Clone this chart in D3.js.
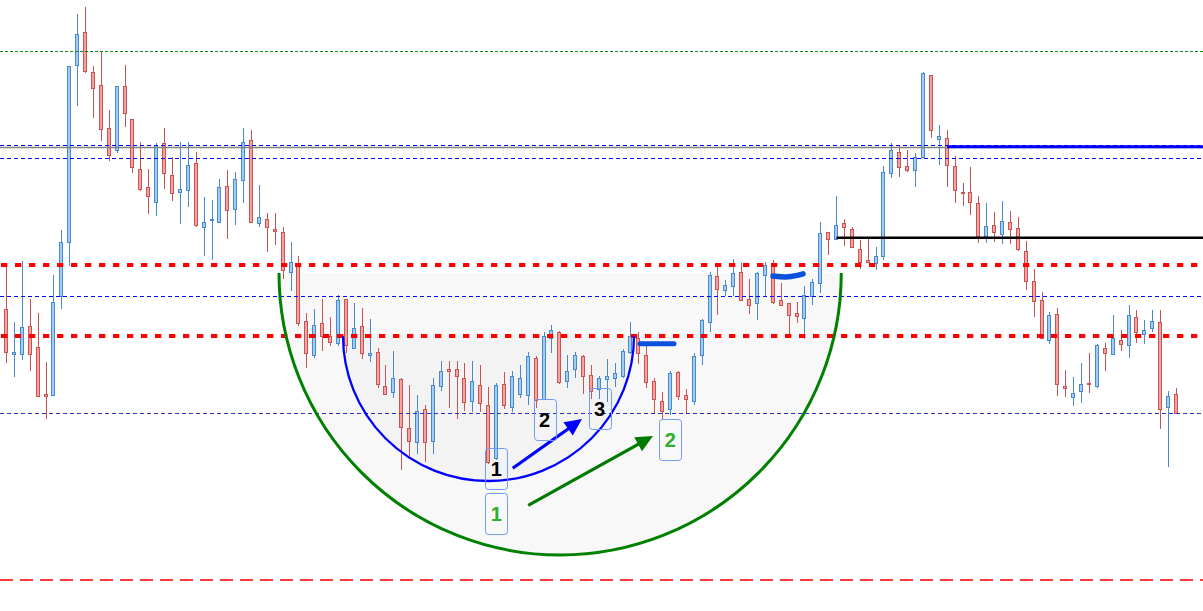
<!DOCTYPE html>
<html><head><meta charset="utf-8">
<script src="https://cdn.jsdelivr.net/npm/d3@7"></script>
<style>html,body{margin:0;padding:0;background:#fff;overflow:hidden}svg{display:block}</style>
</head><body><svg id="c" width="1203" height="611"></svg>
<script>
// ---- data (price units; first candle is index -1, partially off-screen) ----
const firstIndex = -1;
const opens = [281,302,257.5,257,285,264,217,216,315,369,
 546,579,539,526,483,461,525,492,442,424,
 409,468,436,419,421,448,384,391,389,425,
 402,431,471,388,392,382,379,339,348,290,
 256,288,275,268,312,263,285,256,259,225,
 219,232,183,169,202,170,225,242,242,233,
 210,226,206,153,227,204,217,216,253,212,
 273,279,230,242,255,236,222,232,233,235,
 259,273,256,230,210,202,239,216,210,256,
 289,335,321,325,339,312,308,336,348,311,
 308,298,293,315,328,379,372,388,382,362,
 351,348,355,438,459,445,441,454,536,472,
 473,445,419,419,408,375,386,377,389,383,
 360,330,311,271,297,225,214,220,228,225,
 263,257,271,266,294,277,283,289,204,217];
const closes = [301,259,259,284,257,215,215,309,369,545,
 577,540,523,482,456,525,498,444,422,415,
 466,438,418,422,446,386,389,392,424,401,
 432,469,389,394,384,380.5,341,349,288,258,
 286,275,269,311,266,283,258,258,227,217,
 233,184,170,200,169,226,240,240,235,209,
 230,208,149,226,206,235,233,255,211,275,
 281,229,240,256,235,220,233,235,238,260,
 275,258,229,212,200,238,215,212,255,291,
 336,322,326,338,311,306,338,346,309,306,
 296,295,316,329,378,372,386,384,364,349,
 349,355,439,461,444,441,454,538,481,475,
 446,421,418,409,375,385,379,390,382,362,
 330,310,273,296,227,223,218,227,227,266,
 258,273,267,296,279,281,290,202,215,198];
const highs = [304,346,289,350,312,298,249,336,381,545,
 597,604,545,560,501,525,546,492,469,442,
 468,483,454,469,469,459,414,411,432,441,
 439,483,481,426,398,398,384,369,355,298,
 302,312,294,316,312,308,303,292,263,246,
 260,233,226,216,206,233,250,250,250,248,
 250,246,224,228,239,240,246,259,255,279,
 286,280,256,259,256,246,235,252,248,262,
 289,279,268,233,219,240,240,222,258,292,
 339,344,331,352,348,332,339,349,351,328,
 308,309,325,332,389,379,415,392,384,371,
 372,364,445,468,466,461,458,539,536,486,
 481,455,428,444,415,408,399,410,400,394,
 370,342,319,299,303,241,234,248,258,267,
 268,296,281,306,301,291,301,301,220,223];
const lows = [278,248,234,251,240,214,192,215,302,345,
 505,538,493,470,450,458,484,438,420,397,
 395,422,410,387,404,384,355,351,389,372,
 386,408,389,384,359,366,332,320,285,243,
 253,260,265,265,258,262,252,249,223,216,
 213,141,155,157,149,157,220,203,192,200,
 199,199,147,151,202,199,213,206,203,211,
 258,227,223,233,217,212,212,209,224,233,
 257,247,223,198,192,196,211,197,206,246,
 279,296,315,315,310,297,291,315,307,305,
 276,288,272,306,318,356,372,365,363,342,
 349,341,351,433,434,439,424,453,473,446,
 424,408,405,396,368,368,369,367,367,360,
 321,294,273,267,215,214,205,208,218,223,
 240,256,260,253,268,267,279,182,144,197];

// horizontal levels (price)
const levelPrices = [559.7, 465.7, 463.7, 452.7, 346.3, 314.7, 275.3, 197.7, 31];
// ray segments: start index, price
const rayStarts = [119, 105];
const rayPrices = [464.3, 373.3];
// cup arcs: left index, right index, rim price, bottom price
const arcLeft = [34.47, 42.57];
const arcRight = [105.6, 79.38];
const arcRim = [338, 275];
const arcBottom = [56, 130];
// arrows: from (index, price) to (index, price)
const arrowFromIdx = [64.04, 66.0];
const arrowFromPrice = [142.7, 105.7];
const arrowToIdx = [72.8, 81.78];
const arrowToPrice = [192, 175];
// numbered labels
const labelText = ["1", "2", "3", "1", "2"];
const labelIdx = [61.96, 68.06, 75.02, 61.96, 83.97];
const labelPrice = [142.3, 191.5, 202.2, 97.2, 171.2];
// hand-drawn marks
const mark1Idx = [80.14, 84.44];
const mark1Price = [267.3, 267.3];
const mark2Idx = [96.96, 98.9, 100.76];
const mark2Price = [335, 334.2, 337.2];

// ---- scales ----
const W = 1203, H = 611;
const x = d3.scaleLinear().domain([-1, 148]).range([-1.405, 1176.44]);
const y = d3.scaleLinear().domain([0, 611]).range([611, 0]);
const svg = d3.select('#c');

const candles = opens.map((o, i) => ({k: i + firstIndex, o, c: closes[i], h: highs[i], l: lows[i]}));

// ---- cup fills ----
const gFill = svg.append('g');
function halfEllipse(i, close) {
  const x1 = x(arcLeft[i]), x2 = x(arcRight[i]);
  const cy = y(arcRim[i]);
  const rx = (x2 - x1) / 2, ry = y(arcBottom[i]) - cy;
  return `M${x1},${cy} A${rx},${ry} 0 0 0 ${x2},${cy}` + (close ? 'Z' : '');
}
gFill.append('path').attr('d', halfEllipse(0, true)).attr('fill', '#f8f8f8');
gFill.append('path').attr('d', halfEllipse(1, true)).attr('fill', 'rgba(0,0,0,0.018)');

// ---- candles ----
const gC = svg.append('g');
const up = {fill: '#9fcdf5', stroke: '#4a88cc'};
const dn = {fill: '#f6a2a2', stroke: '#c85353'};
candles.forEach(d => {
  const col = Math.floor(x(d.k));
  const st = d.c >= d.o ? up : dn;
  const yh = Math.round(y(d.h)), yl = Math.round(y(d.l));
  gC.append('line').attr('x1', col + 0.5).attr('x2', col + 0.5)
    .attr('y1', yh).attr('y2', yl).attr('stroke', st.stroke).attr('stroke-width', 1);
  const yt = Math.round(y(Math.max(d.o, d.c))), yb = Math.round(y(Math.min(d.o, d.c)));
  gC.append('rect').attr('x', col - 1.5).attr('y', yt + 0.5)
    .attr('width', 3).attr('height', Math.max(yb - yt, 1))
    .attr('fill', st.fill).attr('stroke', st.stroke).attr('stroke-width', 1);
});

// ---- horizontal levels ----
const levelStyle = [
  {c: '#118811', w: 1, d: '3,2'},
  {c: '#0000ff', w: 1, d: '4,3'},
  {c: '#808080', w: 1.3, d: null},
  {c: '#0000ff', w: 1, d: '4,3'},
  {c: '#ff0000', w: 4, d: '6.3,7.7', o: 13},
  {c: '#0000ff', w: 1, d: '4,3'},
  {c: '#ff0000', w: 4, d: '6.3,7.7', o: 13},
  {c: '#3030c8', w: 1, d: '4,3'},
  {c: '#ff3c3c', w: 2, d: '13,7'}
];
const gL = svg.append('g');
levelPrices.forEach((p, i) => {
  const s = levelStyle[i];
  const yy = Math.round(y(p)) + (s.w % 2 ? 0.5 : 0);
  const ln = gL.append('line').attr('x1', 0).attr('x2', W).attr('y1', yy).attr('y2', yy)
    .attr('stroke', s.c).attr('stroke-width', s.w);
  if (s.d) ln.attr('stroke-dasharray', s.d);
  if (s.o) ln.attr('stroke-dashoffset', s.o);
});

// ---- arcs ----
svg.append('path').attr('d', halfEllipse(0, false)).attr('fill', 'none')
  .attr('stroke', '#008000').attr('stroke-width', 3);
svg.append('path').attr('d', halfEllipse(1, false)).attr('fill', 'none')
  .attr('stroke', '#0000ff').attr('stroke-width', 2.3);

// ---- rays ----
const rayStyle = [{c: '#0000ff', w: 3}, {c: '#000000', w: 2.5}];
rayStarts.forEach((k, i) => {
  svg.append('line').attr('x1', x(k)).attr('x2', W)
    .attr('y1', y(rayPrices[i])).attr('y2', y(rayPrices[i]))
    .attr('stroke', rayStyle[i].c).attr('stroke-width', rayStyle[i].w);
});

// ---- hand-drawn marks ----
const lineGen = d3.line().curve(d3.curveBasis);
svg.append('path').attr('d', lineGen(mark1Idx.map((k, i) => [x(k), y(mark1Price[i])])))
  .attr('fill', 'none').attr('stroke', '#0a52dc').attr('stroke-width', 5).attr('stroke-linecap', 'round');
svg.append('path').attr('d', d3.line().curve(d3.curveCatmullRom)(mark2Idx.map((k, i) => [x(k), y(mark2Price[i])])))
  .attr('fill', 'none').attr('stroke', '#0a52dc').attr('stroke-width', 5.5).attr('stroke-linecap', 'round');

// ---- arrows ----
const arrowColor = ['#0000ff', '#007a00'];
arrowFromIdx.forEach((k, i) => {
  const x1 = x(k), y1 = y(arrowFromPrice[i]), x2 = x(arrowToIdx[i]), y2 = y(arrowToPrice[i]);
  const dx = x2 - x1, dy = y2 - y1, len = Math.hypot(dx, dy);
  const ux = dx / len, uy = dy / len, L = 17, hw = 8;
  const bx = x2 - ux * L, by = y2 - uy * L;
  svg.append('line').attr('x1', x1).attr('y1', y1).attr('x2', bx + ux * 2).attr('y2', by + uy * 2)
    .attr('stroke', arrowColor[i]).attr('stroke-width', 3.2);
  svg.append('path')
    .attr('d', `M${x2},${y2} L${bx - uy * hw},${by + ux * hw} L${bx + uy * hw},${by - ux * hw} Z`)
    .attr('fill', arrowColor[i]);
});

// ---- labels ----
const labelColor = ['#000000', '#000000', '#000000', '#2bb02b', '#2bb02b'];
labelText.forEach((t, i) => {
  const cx = x(labelIdx[i]), cy = y(labelPrice[i]);
  svg.append('rect').attr('x', Math.round(cx - 11) + 0.5).attr('y', Math.round(cy - 20.5) + 0.5)
    .attr('width', 22).attr('height', 41).attr('rx', 3)
    .attr('fill', 'none').attr('stroke', '#6f9cf6').attr('stroke-width', 1);
  svg.append('text').attr('x', cx).attr('y', cy + 7.5).attr('text-anchor', 'middle')
    .attr('font-family', '"Liberation Sans", Arial, sans-serif').attr('font-size', 20)
    .attr('font-weight', 'bold').attr('fill', labelColor[i]).text(t);
});
</script></body></html>
